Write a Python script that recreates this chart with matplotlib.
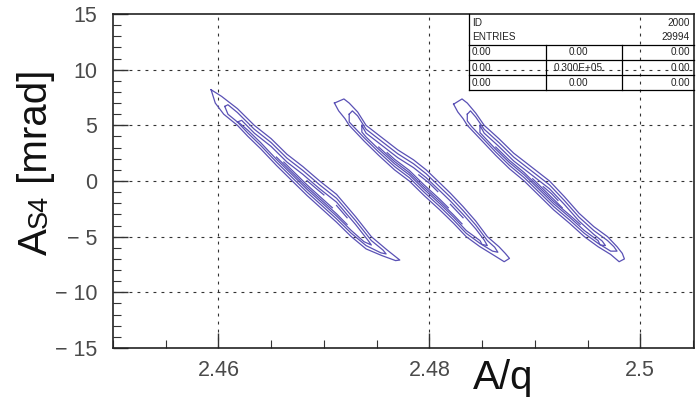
import matplotlib.pyplot as plt
from matplotlib.ticker import MultipleLocator

plt.rcParams['font.family'] = ['Liberation Sans', 'DejaVu Sans']

# 坐标轴刻度
x_ticks = [2.46, 2.48, 2.5]
x_labels = ['2.46', '2.48', '2.5']
y_ticks = [-15, -10, -5, 0, 5, 10, 15]
y_labels = ['− 15', '− 10', '− 5', '0', '5', '10', '15']

# 统计框 (PAW)
hist_id = '2000'
hist_entries = '29994'
stat_rows = [['0.00', '0.00', '0.00'],
             ['0.00', '0.300E+05', '0.00'],
             ['0.00', '0.00', '0.00']]

# 等高线, 点为 (A/q, A_S4 [mrad])
# 第一个峰
b1_outer = [(2.4593, 8.2), (2.4603, 7.6), (2.4618, 6.5), (2.4634, 5.0), (2.4650, 3.8), (2.4665, 2.4),
            (2.4680, 1.3), (2.4696, 0.0), (2.4712, -1.2), (2.4730, -3.2), (2.4745, -5.0), (2.4760, -6.2),
            (2.4772, -7.1), (2.4768, -7.15), (2.4755, -6.7), (2.4740, -6.1), (2.4726, -5.0), (2.4712, -3.7),
            (2.4698, -2.5), (2.4684, -1.3), (2.4670, 0.0), (2.4655, 1.4), (2.4640, 2.9), (2.4628, 4.0),
            (2.4618, 5.0), (2.4605, 6.0), (2.4597, 7.0), (2.4593, 8.2)]
b1_l2 = [(2.4606, 6.7), (2.4609, 6.85), (2.4618, 6.15), (2.4634, 4.65), (2.4650, 3.45), (2.4665, 2.05),
         (2.4680, 0.95), (2.4696, -0.35), (2.4712, -1.55), (2.4730, -3.55), (2.4745, -5.35), (2.4756, -6.2),
         (2.4759, -6.55), (2.4754, -6.45), (2.4740, -5.8), (2.4726, -4.7), (2.4712, -3.4), (2.4698, -2.2),
         (2.4684, -1.0), (2.4670, 0.3), (2.4655, 1.7), (2.4640, 3.2), (2.4628, 4.3), (2.4618, 5.3),
         (2.4609, 6.0), (2.4606, 6.7)]
b1_l3 = [(2.4618, 5.3), (2.4622, 5.45), (2.4634, 4.3), (2.4650, 3.1), (2.4665, 1.7), (2.4680, 0.6),
         (2.4696, -0.7), (2.4712, -1.9), (2.4730, -3.9), (2.4742, -5.35), (2.4745, -5.75), (2.4738, -5.45),
         (2.4726, -4.45), (2.4712, -3.15), (2.4698, -1.95), (2.4684, -0.75), (2.4670, 0.55), (2.4655, 1.95),
         (2.4640, 3.45), (2.4628, 4.55), (2.4620, 5.2), (2.4618, 5.3)]
b1_core = [(2.4655, 2.15), (2.4670, 0.75), (2.4684, -0.55), (2.4698, -1.75), (2.4712, -2.95), (2.4722, -3.9)]
b1_core2 = [(2.4662, 1.7), (2.4670, 0.95), (2.4684, -0.35), (2.4698, -1.55), (2.4708, -2.4)]
b1_frag1 = [(2.4684, 0.03), (2.4692, -0.62), (2.4700, -1.25)]
b1_frag2 = [(2.4712, -2.2), (2.4722, -3.3)]

# 第二个峰
b2_outer = [(2.4710, 7.0), (2.4719, 7.37), (2.4724, 7.0), (2.4732, 6.2), (2.4740, 5.0), (2.4755, 3.9),
            (2.4770, 2.8), (2.4785, 1.9), (2.4797, 1.0), (2.4808, 0.0), (2.4820, -1.1), (2.4832, -2.3),
            (2.4844, -3.6), (2.4855, -5.0), (2.4866, -5.9), (2.4872, -6.5), (2.4876, -6.95), (2.4871, -7.25),
            (2.4860, -6.6), (2.4848, -5.9), (2.4835, -5.0), (2.4823, -3.8), (2.4810, -2.6), (2.4795, -1.3),
            (2.4781, 0.0), (2.4767, 1.0), (2.4752, 2.3), (2.4738, 3.6), (2.4724, 5.0), (2.4720, 5.6),
            (2.4714, 6.3), (2.4710, 7.0)]
b2_l2 = [(2.4724, 6.0), (2.4727, 6.3), (2.4732, 5.85), (2.4740, 4.65), (2.4755, 3.55), (2.4770, 2.45),
         (2.4785, 1.55), (2.4797, 0.65), (2.4808, -0.35), (2.4820, -1.45), (2.4832, -2.65), (2.4844, -3.95),
         (2.4855, -5.35), (2.4862, -5.95), (2.4865, -6.4), (2.4860, -6.3), (2.4848, -5.6), (2.4835, -4.7),
         (2.4823, -3.5), (2.4810, -2.3), (2.4795, -1.0), (2.4781, 0.3), (2.4767, 1.3), (2.4752, 2.6),
         (2.4738, 3.9), (2.4728, 4.9), (2.4724, 5.3), (2.4724, 6.0)]
b2_l3 = [(2.4736, 5.0), (2.4740, 4.3), (2.4755, 3.2), (2.4770, 2.1), (2.4785, 1.2), (2.4797, 0.3),
         (2.4808, -0.7), (2.4820, -1.8), (2.4832, -3.0), (2.4844, -4.3), (2.4852, -5.3), (2.4855, -5.8),
         (2.4850, -5.7), (2.4848, -5.35), (2.4835, -4.45), (2.4823, -3.25), (2.4810, -2.05), (2.4795, -0.75),
         (2.4781, 0.55), (2.4767, 1.55), (2.4752, 2.85), (2.4740, 3.95), (2.4736, 4.4), (2.4736, 5.0)]
b2_core = [(2.4752, 3.05), (2.4767, 1.75), (2.4781, 0.75), (2.4795, -0.55), (2.4810, -1.85), (2.4823, -3.05),
           (2.4831, -3.85)]
b2_core2 = [(2.4760, 2.55), (2.4767, 1.95), (2.4781, 0.95), (2.4795, -0.35), (2.4810, -1.65), (2.4818, -2.4)]
b2_frag1 = [(2.4790, 0.55), (2.4800, -0.2), (2.4808, -0.95)]
b2_frag2 = [(2.4820, -2.1), (2.4832, -3.3)]

# 第三个峰
b3_outer = [(2.4823, 6.9), (2.4831, 7.37), (2.4836, 7.0), (2.4844, 6.1), (2.4852, 5.0), (2.4866, 3.8),
            (2.4880, 2.5), (2.4895, 1.4), (2.4914, 0.0), (2.4928, -1.4), (2.4942, -2.9), (2.4956, -4.1),
            (2.4969, -5.0), (2.4978, -5.9), (2.4983, -6.5), (2.4985, -7.0), (2.4980, -7.25), (2.4972, -6.6),
            (2.4960, -5.9), (2.4947, -5.0), (2.4933, -3.8), (2.4918, -2.6), (2.4904, -1.3), (2.4890, 0.0),
            (2.4876, 1.1), (2.4863, 2.3), (2.4850, 3.6), (2.4836, 5.0), (2.4832, 5.6), (2.4827, 6.2),
            (2.4823, 6.9)]
b3_l2 = [(2.4836, 6.0), (2.4839, 6.3), (2.4844, 5.75), (2.4852, 4.65), (2.4866, 3.45), (2.4880, 2.15),
         (2.4895, 1.05), (2.4914, -0.35), (2.4928, -1.75), (2.4942, -3.25), (2.4956, -4.45), (2.4969, -5.35),
         (2.4975, -5.9), (2.4978, -6.3), (2.4972, -6.3), (2.4960, -5.6), (2.4947, -4.7), (2.4933, -3.5),
         (2.4918, -2.3), (2.4904, -1.0), (2.4890, 0.3), (2.4876, 1.4), (2.4863, 2.6), (2.4850, 3.9),
         (2.4840, 4.9), (2.4836, 5.4), (2.4836, 6.0)]
b3_l3 = [(2.4848, 5.0), (2.4852, 4.3), (2.4866, 3.1), (2.4880, 1.8), (2.4895, 0.7), (2.4914, -0.7),
         (2.4928, -2.1), (2.4942, -3.6), (2.4956, -4.8), (2.4964, -5.4), (2.4967, -5.8), (2.4962, -5.75),
         (2.4960, -5.35), (2.4947, -4.45), (2.4933, -3.25), (2.4918, -2.05), (2.4904, -0.75), (2.4890, 0.55),
         (2.4876, 1.65), (2.4863, 2.85), (2.4852, 3.95), (2.4848, 4.35), (2.4848, 5.0)]
b3_core = [(2.4863, 3.05), (2.4876, 1.85), (2.4890, 0.75), (2.4904, -0.55), (2.4918, -1.85), (2.4933, -3.05),
           (2.4943, -3.9)]
b3_core2 = [(2.4898, 0.2), (2.4904, -0.35), (2.4918, -1.65), (2.4926, -2.4)]
b3_frag1 = [(2.4908, -0.51), (2.4916, -1.15), (2.4922, -1.75)]

contours = [b1_outer, b1_l2, b1_l3, b1_core, b1_core2, b1_frag1, b1_frag2,
            b2_outer, b2_l2, b2_l3, b2_core, b2_core2, b2_frag1, b2_frag2,
            b3_outer, b3_l2, b3_l3, b3_core, b3_core2, b3_frag1]

line_color = '#5a51b5'

fig = plt.figure(figsize=(6.97, 4.07), dpi=100)
ax = fig.add_axes([113 / 697, 1 - 348 / 407, 581 / 697, 334 / 407])

for c in contours:
    xs = [p[0] for p in c]
    ys = [p[1] for p in c]
    ax.plot(xs, ys, color=line_color, lw=0.9, zorder=3)

ax.set_xlim(2.45, 2.5051)
ax.set_ylim(-15, 15)
ax.set_xticks(x_ticks)
ax.set_xticklabels(x_labels)
ax.set_yticks(y_ticks)
ax.set_yticklabels(y_labels)
ax.xaxis.set_minor_locator(MultipleLocator(0.005))
ax.yaxis.set_minor_locator(MultipleLocator(1))
ax.tick_params(which='major', direction='in', length=11, width=1.0, top=False, right=False,
               labelsize=15.5, labelcolor='#4a4a4a', color='#333333')
ax.tick_params(which='minor', direction='in', length=5.5, width=0.8, top=False, right=False,
               color='#333333')
ax.tick_params(axis='x', which='major', pad=8.5)
ax.tick_params(axis='y', which='major', pad=11.5)
for s in ax.spines.values():
    s.set_linewidth(1.2)
    s.set_color('#222222')

# 虚线网格
for xv in x_ticks:
    ax.axvline(xv, color='#333333', lw=0.8, ls=(0, (2.6, 4.6)), zorder=1)
for yv in y_ticks[1:-1]:
    ax.axhline(yv, color='#333333', lw=0.8, ls=(0, (2.6, 4.6)), zorder=1)

# 统计框
bx0, bx1 = 0.6127, 1.0
c1, c2 = 0.7453, 0.8761
r_lines = [0.9072, 0.8623, 0.8174]
r_bot = 0.7725
kw = dict(transform=ax.transAxes, color='black', lw=0.9, clip_on=False, zorder=4)
ax.plot([bx0, bx0], [r_bot, 1.0], **kw)
ax.plot([bx0, bx1], [r_bot, r_bot], **kw)
for r in r_lines:
    ax.plot([bx0, bx1], [r, r], **kw)
for cx in (c1, c2):
    ax.plot([cx, cx], [r_bot, r_lines[0]], **kw)

tkw = dict(transform=ax.transAxes, fontsize=7.2, va='center', zorder=5, color='#222222')
tx_l, tx_m, tx_r = 0.6179, 0.8003, 0.9931
ax.text(tx_l, 0.9731, 'ID', ha='left', **tkw)
ax.text(tx_r, 0.9731, hist_id, ha='right', **tkw)
ax.text(tx_l, 0.9311, 'ENTRIES', ha='left', **tkw)
ax.text(tx_r, 0.9311, hist_entries, ha='right', **tkw)
for row, yc in zip(stat_rows, [0.8848, 0.8398, 0.7949]):
    ax.text(tx_l, yc, row[0], ha='left', **tkw)
    ax.text(tx_m, yc, row[1], ha='center', **tkw)
    ax.text(tx_r, yc, row[2], ha='right', **tkw)

# x 轴标题
fig.text(473 / 697, 1 - 389 / 407, 'A/q', fontsize=29, ha='left', va='baseline', color='#111111')

# y 轴标题：A 与下标 S4 同基线
fig.canvas.draw()
rend = fig.canvas.get_renderer()
parts = [('A', 29), ('S4', 19.5), (' [mrad]', 29)]
lens = []
for s, fs in parts:
    t = fig.text(0, 0, s, fontsize=fs)
    lens.append(t.get_window_extent(rend).width)
    t.remove()
y0 = (407 - 162) - sum(lens) / 2
for (s, fs), ln in zip(parts, lens):
    fig.text(47 / 697, y0 / 407, s, fontsize=fs, rotation=90, rotation_mode='anchor',
             ha='left', va='baseline', color='#111111')
    y0 += ln

fig.savefig('out.png', dpi=100)
